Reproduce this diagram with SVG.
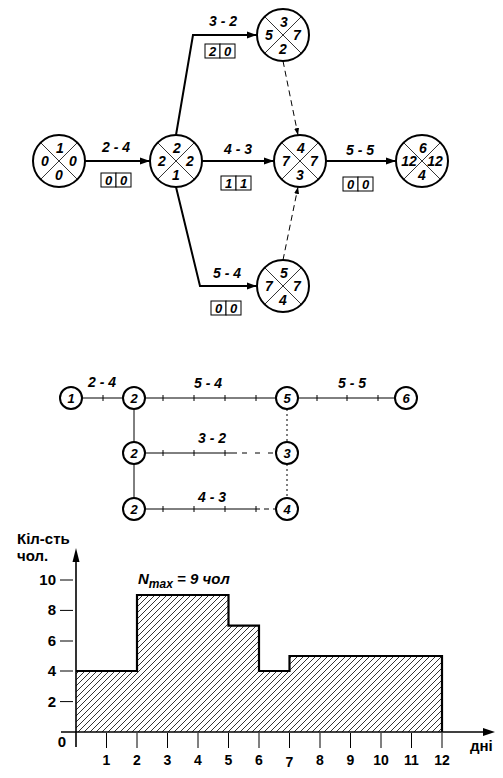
<svg xmlns="http://www.w3.org/2000/svg" width="503" height="778" viewBox="0 0 503 778">
<style>
text{font-family:"Liberation Sans",Arial,sans-serif;fill:#000}
.lb{font-size:14px;font-weight:bold;font-style:italic;text-anchor:middle}
.nd{font-size:14px;font-weight:bold;font-style:italic;text-anchor:middle}
.sn{font-size:13px;font-weight:bold;font-style:italic;text-anchor:middle}
.bx{font-size:13px;font-weight:bold;font-style:italic;text-anchor:middle}
.ax{font-size:14px;font-weight:bold;text-anchor:middle}
.big{fill:#fff;stroke:#000;stroke-width:2}
.x{stroke:#000;stroke-width:0.8}
.cell{fill:#fff;stroke:#000;stroke-width:1}
.arr{fill:none;stroke:#000;stroke-width:2;marker-end:url(#ah)}
.dsh{fill:none;stroke:#000;stroke-width:1;stroke-dasharray:6 4;marker-end:url(#ahs)}
.sm{fill:#fff;stroke:#000;stroke-width:2}
.ln{stroke:#000;stroke-width:1;fill:none}
</style>
<defs>
<marker id="ah" markerUnits="userSpaceOnUse" markerWidth="12" markerHeight="10" refX="10" refY="4" orient="auto"><path d="M0,0.5 L10,4 L0,7.5 Z" fill="#000"/></marker>
<marker id="ahs" markerUnits="userSpaceOnUse" markerWidth="10" markerHeight="8" refX="7" refY="3" orient="auto"><path d="M0,0.5 L7,3 L0,5.5 Z" fill="#000"/></marker>
<pattern id="hatch" width="6" height="6" patternUnits="userSpaceOnUse"><path d="M0,6 L6,0 M-1,1 L1,-1 M5,7 L7,5" stroke="#000" stroke-width="0.8"/></pattern>
</defs>

<g id="connectors">
<line class="arr" x1="85" y1="161" x2="150" y2="161"/>
<polyline class="arr" points="176,135 193,35 257,35"/>
<line class="arr" x1="202" y1="161" x2="274" y2="161"/>
<polyline class="arr" points="176,187 200,286 257,286"/>
<line class="arr" x1="326" y1="161" x2="396" y2="161"/>
<line class="dsh" x1="283" y1="61" x2="298" y2="135"/>
<line class="dsh" x1="283" y1="260" x2="298" y2="187"/>
</g>

<g id="labels-top">
<text class="lb" x="116" y="152">2 - 4</text>
<text class="lb" x="223" y="26">3 - 2</text>
<text class="lb" x="238" y="154">4 - 3</text>
<text class="lb" x="360" y="155">5 - 5</text>
<text class="lb" x="227" y="278">5 - 4</text>
</g>

<g id="box-24"><rect class="cell" x="101" y="173" width="15" height="14"/><rect class="cell" x="116" y="173" width="15" height="14"/><text class="bx" x="108.5" y="185">0</text><text class="bx" x="123.5" y="185">0</text></g>
<g id="box-32"><rect class="cell" x="205" y="44" width="15" height="14"/><rect class="cell" x="220" y="44" width="15" height="14"/><text class="bx" x="212.5" y="56">2</text><text class="bx" x="227.5" y="56">0</text></g>
<g id="box-43"><rect class="cell" x="221" y="176" width="15" height="14"/><rect class="cell" x="236" y="176" width="15" height="14"/><text class="bx" x="228.5" y="188">1</text><text class="bx" x="243.5" y="188">1</text></g>
<g id="box-55"><rect class="cell" x="343" y="177" width="15" height="14"/><rect class="cell" x="358" y="177" width="15" height="14"/><text class="bx" x="350.5" y="189">0</text><text class="bx" x="365.5" y="189">0</text></g>
<g id="box-54"><rect class="cell" x="211" y="301" width="15" height="14"/><rect class="cell" x="226" y="301" width="15" height="14"/><text class="bx" x="218.5" y="313">0</text><text class="bx" x="233.5" y="313">0</text></g>

<g id="n1" transform="translate(59,161)"><circle class="big" r="26"/><path class="x" d="M-18.4,-18.4 L18.4,18.4 M18.4,-18.4 L-18.4,18.4"/><text class="nd" x="1" y="-8">1</text><text class="nd" x="-14" y="5">0</text><text class="nd" x="14" y="5">0</text><text class="nd" x="0" y="19">0</text></g>
<g id="n2" transform="translate(176,161)"><circle class="big" r="26"/><path class="x" d="M-18.4,-18.4 L18.4,18.4 M18.4,-18.4 L-18.4,18.4"/><text class="nd" x="1" y="-8">2</text><text class="nd" x="-14" y="5">2</text><text class="nd" x="14" y="5">2</text><text class="nd" x="0" y="19">1</text></g>
<g id="n3" transform="translate(283,35)"><circle class="big" r="26"/><path class="x" d="M-18.4,-18.4 L18.4,18.4 M18.4,-18.4 L-18.4,18.4"/><text class="nd" x="1" y="-8">3</text><text class="nd" x="-14" y="5">5</text><text class="nd" x="14" y="5">7</text><text class="nd" x="0" y="19">2</text></g>
<g id="n4" transform="translate(300,161)"><circle class="big" r="26"/><path class="x" d="M-18.4,-18.4 L18.4,18.4 M18.4,-18.4 L-18.4,18.4"/><text class="nd" x="1" y="-8">4</text><text class="nd" x="-14" y="5">7</text><text class="nd" x="14" y="5">7</text><text class="nd" x="0" y="19">3</text></g>
<g id="n5" transform="translate(283,286)"><circle class="big" r="26"/><path class="x" d="M-18.4,-18.4 L18.4,18.4 M18.4,-18.4 L-18.4,18.4"/><text class="nd" x="1" y="-8">5</text><text class="nd" x="-14" y="5">7</text><text class="nd" x="14" y="5">7</text><text class="nd" x="0" y="19">4</text></g>
<g id="n6" transform="translate(422,161)"><circle class="big" r="26"/><path class="x" d="M-18.4,-18.4 L18.4,18.4 M18.4,-18.4 L-18.4,18.4"/><text class="nd" x="1" y="-8">6</text><text class="nd" x="-13" y="5">12</text><text class="nd" x="13" y="5">12</text><text class="nd" x="0" y="19">4</text></g>

<g id="schedule-connectors">
<path class="ln" d="M82,398 H123 M103,395 V401"/>
<path class="ln" d="M145,398 H276 M163,395 V401 M194,395 V401 M225,395 V401 M256,395 V401"/>
<path class="ln" d="M298,398 H395 M317,395 V401 M347,395 V401 M378,395 V401"/>
<path class="ln" d="M134,409 V442 M134,464 V498"/>
<path class="ln" d="M145,453 H237 M163,450 V456 M194,450 V456 M225,450 V456"/>
<path class="ln" d="M242,453 H276" stroke-dasharray="5 8"/>
<path class="ln" d="M145,509 H260 M163,506 V512 M194,506 V512 M225,506 V512 M256,506 V512"/>
<path class="ln" d="M264,509 H276" stroke-dasharray="5 4"/>
<path class="ln" d="M287,409 V442 M287,464 V498" stroke-dasharray="2 3"/>
</g>
<g id="schedule-labels">
<text class="lb" x="102" y="387">2 - 4</text>
<text class="lb" x="208" y="388">5 - 4</text>
<text class="lb" x="352" y="388">5 - 5</text>
<text class="lb" x="212" y="443">3 - 2</text>
<text class="lb" x="212" y="502">4 - 3</text>
</g>
<g id="s1"><circle class="sm" cx="71" cy="398" r="11"/><text class="sn" x="71" y="403">1</text></g>
<g id="s2a"><circle class="sm" cx="134" cy="398" r="11"/><text class="sn" x="134" y="403">2</text></g>
<g id="s5"><circle class="sm" cx="287" cy="398" r="11"/><text class="sn" x="287" y="403">5</text></g>
<g id="s6"><circle class="sm" cx="406" cy="398" r="11"/><text class="sn" x="406" y="403">6</text></g>
<g id="s2b"><circle class="sm" cx="134" cy="453" r="11"/><text class="sn" x="134" y="458">2</text></g>
<g id="s3"><circle class="sm" cx="287" cy="453" r="11"/><text class="sn" x="287" y="458">3</text></g>
<g id="s2c"><circle class="sm" cx="134" cy="509" r="11"/><text class="sn" x="134" y="514">2</text></g>
<g id="s4"><circle class="sm" cx="287" cy="509" r="11"/><text class="sn" x="287" y="514">4</text></g>

<g id="histogram">
<path d="M76,732 V671 H137 V595 H228.5 V625.6 H259 V671 H289.5 V656 H442 V732 Z" fill="url(#hatch)"/>
<path d="M76,671 H137 V595 H228.5 V625.6 H259 V671 H289.5 V656 H442 V732" fill="none" stroke="#000" stroke-width="2.2"/>
<line x1="61" y1="732" x2="484" y2="732" stroke="#000" stroke-width="1.6"/>
<path d="M483,728 L495,732 L483,736 Z" fill="#000"/>
<line x1="76" y1="747" x2="76" y2="560" stroke="#000" stroke-width="1.6"/>
<path d="M72.5,562 L76,548 L79.5,562 Z" fill="#000"/>
<path class="ln" d="M60,580 H73 M60,610.4 H73 M60,641 H73 M60,671 H73 M60,701.6 H73"/>
<path class="ln" d="M106.5,733 V748 M137,733 V748 M167.5,733 V748 M198,733 V748 M228.5,733 V748 M259,733 V748 M289.5,733 V748 M320,733 V748 M350.5,733 V748 M381,733 V748 M411.5,733 V748 M442,733 V748"/>
<g style="font-size:15px;font-weight:bold;text-anchor:end">
<text x="56" y="585">10</text><text x="56" y="615">8</text><text x="56" y="646">6</text><text x="56" y="676">4</text><text x="56" y="707">2</text>
</g>
<text class="ax" x="62" y="747" style="font-size:15px">0</text>
<g style="font-size:15px">
<text class="ax" x="106.5" y="765">1</text><text class="ax" x="137" y="765">2</text><text class="ax" x="167.5" y="765">3</text><text class="ax" x="198" y="765">4</text><text class="ax" x="228.5" y="765">5</text><text class="ax" x="259" y="765">6</text><text class="ax" x="289.5" y="767">7</text><text class="ax" x="320" y="765">8</text><text class="ax" x="350.5" y="765">9</text><text class="ax" x="381" y="765">10</text><text class="ax" x="411.5" y="765">11</text><text class="ax" x="442" y="765">12</text>
</g>
<text x="470" y="751" style="font-size:15px;font-weight:bold">дні</text>
<text x="17" y="544" style="font-size:15px;font-weight:bold">Кіл-сть</text>
<text x="17" y="561" style="font-size:15px;font-weight:bold">чол.</text>
<text x="138" y="584" style="font-size:15px;font-style:italic;font-weight:bold">N<tspan dy="4" style="font-size:12px">max</tspan><tspan dy="-4"> = 9 чол</tspan></text>
</g>
</svg>
